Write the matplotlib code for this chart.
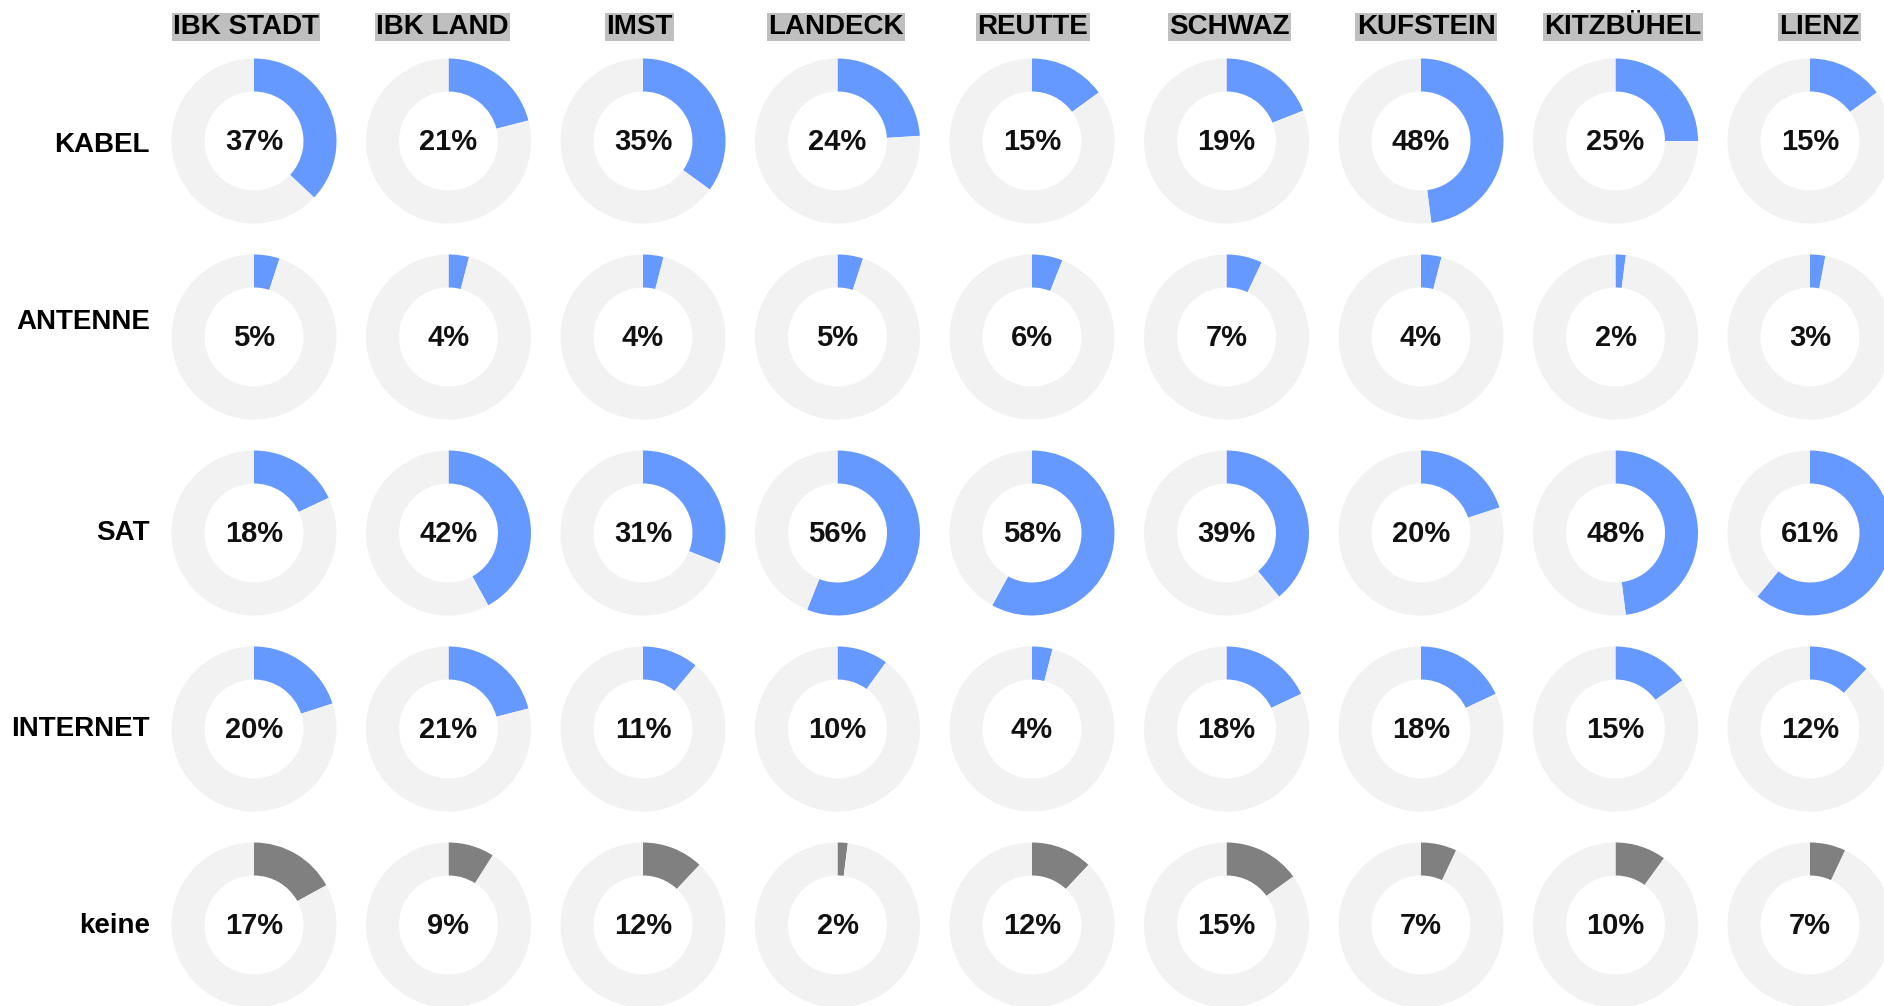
import matplotlib
matplotlib.use("Agg")
import matplotlib.pyplot as plt

plt.rcParams['font.family'] = ['Liberation Sans', 'DejaVu Sans']

districts = ["IBK STADT", "IBK LAND", "IMST", "LANDECK", "REUTTE",
             "SCHWAZ", "KUFSTEIN", "KITZBÜHEL", "LIENZ"]
categories = ["KABEL", "ANTENNE", "SAT", "INTERNET", "keine"]

kabel    = [37, 21, 35, 24, 15, 19, 48, 25, 15]
antenne  = [5, 4, 4, 5, 6, 7, 4, 2, 3]
sat      = [18, 42, 31, 56, 58, 39, 20, 48, 61]
internet = [20, 21, 11, 10, 4, 18, 18, 15, 12]
keine    = [17, 9, 12, 2, 12, 15, 7, 10, 7]

values = [kabel, antenne, sat, internet, keine]

BLUE = "#6699ff"
GREY = "#808080"
LIGHT = "#f2f2f2"
HEADER_BG = "#bfbfbf"

W, H = 1884, 1006
fig = plt.figure(figsize=(W / 100, H / 100), dpi=100)
ax = fig.add_axes([0, 0, 1, 1])

x0, dx = 254, 194.5
hx0, hdx = 246, 196.7
y0, dy = 141, 196
r_out = 82.5
ring = 33
fs_lab = 20
fs_pct = 21
label_dy = [4, -15, 0, 0, 1]

def ypix(y):
    return H - y

for j, d in enumerate(districts):
    cx = hx0 + j * hdx
    ax.text(cx, ypix(27), d, ha='center', va='center', fontsize=fs_lab,
            fontweight='bold', color='black',
            bbox=dict(boxstyle='square,pad=0.05', fc=HEADER_BG, ec='none'))

for i, cat in enumerate(categories):
    cy = ypix(y0 + i * dy)
    ax.text(150, cy - label_dy[i], cat, ha='right', va='center', fontsize=fs_lab,
            fontweight='bold', color='black')
    col = GREY if cat == "keine" else BLUE
    for j, v in enumerate(values[i]):
        cx = x0 + j * dx
        ax.pie([v, 100 - v], colors=[col, LIGHT], startangle=90,
               counterclock=False, center=(cx, cy), radius=r_out,
               wedgeprops=dict(width=ring, linewidth=0), frame=True)
        ax.text(cx, cy - 1, f"{v}%", ha='center', va='center', fontsize=fs_pct,
                fontweight='bold', color='#111111')

ax.set_xlim(0, W)
ax.set_ylim(0, H)
ax.set_aspect('auto')
ax.axis('off')
fig.savefig("out.png", dpi=100, facecolor='white')
